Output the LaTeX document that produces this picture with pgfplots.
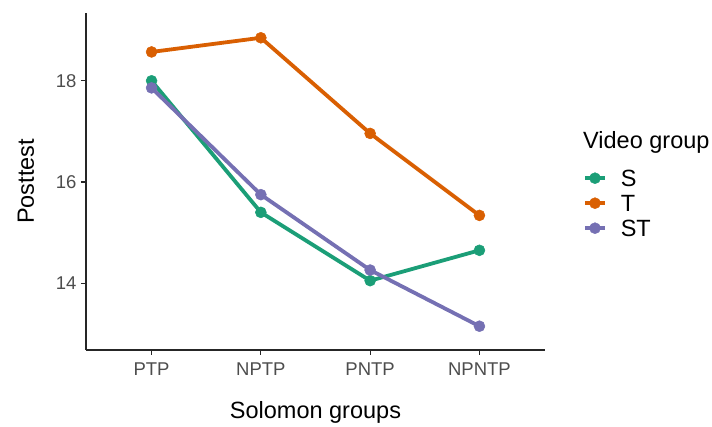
\documentclass[border=0pt]{standalone}
\usepackage{pgfplots}
\pgfplotsset{compat=1.18}
\usepackage{fontspec}
\setmainfont{Liberation Sans}
\definecolor{cS}{HTML}{1B9E77}
\definecolor{cT}{HTML}{D95F02}
\definecolor{cST}{HTML}{7570B3}
\definecolor{tickgray}{HTML}{4D4D4D}
\begin{document}
\begin{tikzpicture}[x=1pt,y=1pt]
\path (-86pt,-77pt) rectangle (626pt,350pt);
\begin{axis}[
  at={(0pt,0pt)}, anchor=south west,
  scale only axis, width=459pt, height=337pt,
  xmin=-0.6, xmax=3.6, ymin=12.68, ymax=19.34,
  axis x line=bottom, axis y line=left,
  axis line style={-, line width=1.1pt, black!85},
  xtick={0,1,2,3}, xticklabels={PTP,NPTP,PNTP,NPNTP},
  ytick={14,16,18},
  tick align=outside, major tick length=5pt,
  tick style={line width=1.1pt, black!85},
  ticklabel style={font=\fontsize{18.5}{20}\selectfont, text=tickgray},
  xticklabel style={yshift=-4pt},
  yticklabel style={xshift=-1pt},
  /pgf/number format/assume math mode=true,
  xlabel={Solomon groups}, ylabel={Posttest},
  label style={font=\fontsize{23.5}{26}\selectfont},
  xlabel style={at={(axis description cs:0.5,0)}, anchor=center, yshift=-62pt},
  ylabel style={at={(axis description cs:0,0.5)}, anchor=center, yshift=60pt},
  legend style={at={(1.0828,0.5386)}, anchor=north west, draw=none, fill=none,
    font=\fontsize{23.5}{26}\selectfont, row sep=6pt, inner sep=0pt,
    nodes={inner sep=1pt, text height=17pt, text depth=0pt},
    /tikz/every odd column/.append style={column sep=13pt}},
  legend cell align=left,
  legend image code/.code={\draw[mark repeat=2,mark phase=2,#1, line width=3.6pt] plot coordinates {(0pt,0pt) (10pt,0pt) (20pt,0pt)};},
  every axis plot/.append style={line width=3.8pt, mark=*, mark size=5.5pt},
  clip=false,
]
\addplot[cS, mark options={fill=cS, draw=cS, line width=0.5pt}] coordinates {(0,18.00) (1,15.40) (2,14.05) (3,14.65)};
\addlegendentry{S}
\addplot[cT, mark options={fill=cT, draw=cT, line width=0.5pt}] coordinates {(0,18.57) (1,18.85) (2,16.96) (3,15.34)};
\addlegendentry{T}
\addplot[cST, mark options={fill=cST, draw=cST, line width=0.5pt}] coordinates {(0,17.86) (1,15.75) (2,14.26) (3,13.15)};
\addlegendentry{ST}
\node[anchor=base west, font=\fontsize{23.5}{26}\selectfont, inner sep=0pt] at (rel axis cs:1.0828,0.598) {Video group};
\end{axis}
\end{tikzpicture}
\end{document}
